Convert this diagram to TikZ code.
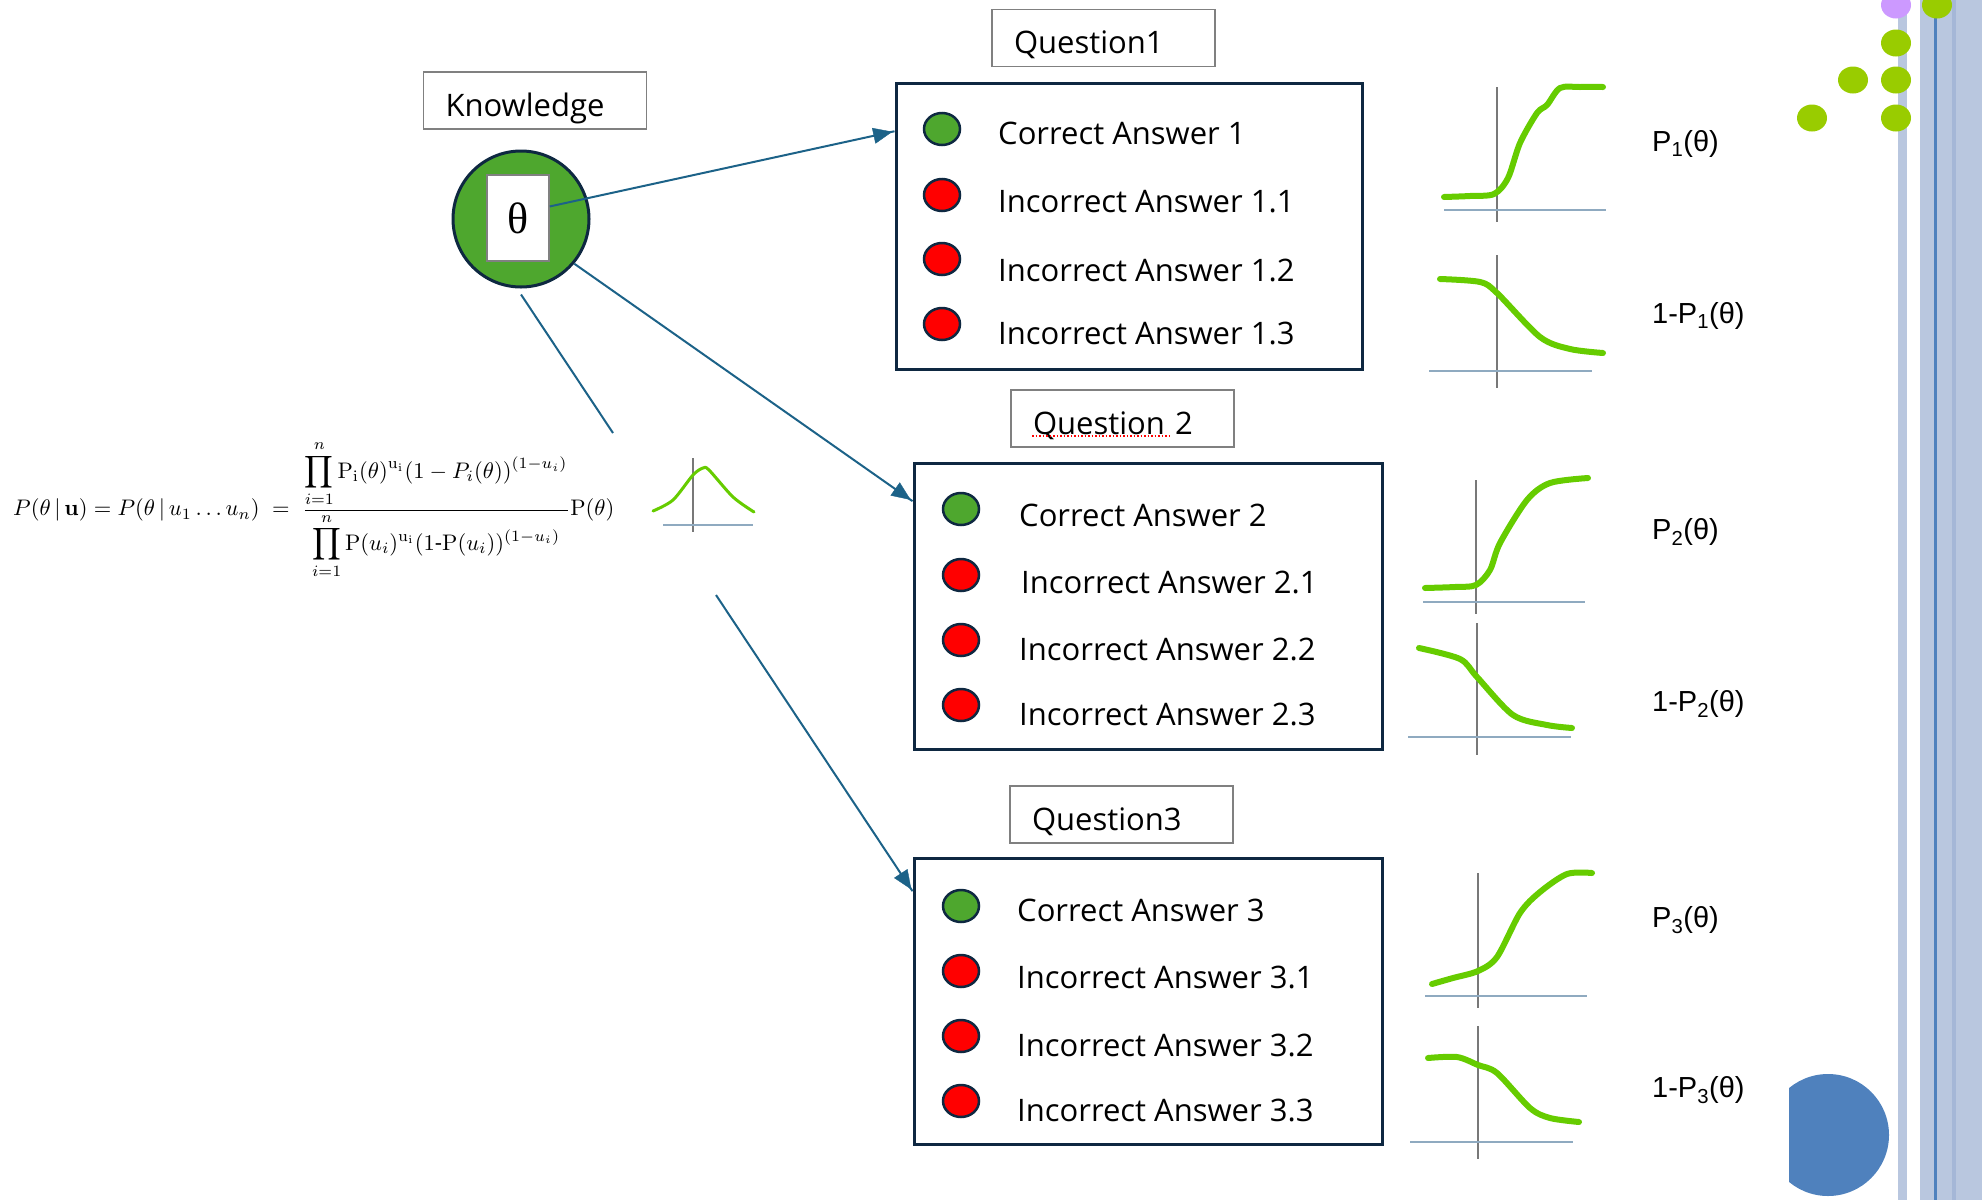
\documentclass[tikz,border=0pt]{standalone}
\usepackage[no-math]{fontspec}
\usepackage{amsmath}
\usepackage{graphicx}
\setmainfont{Open Sans}
\newfontfamily\plotfont{Liberation Sans}
\newfontfamily\greekfont{Liberation Serif}
\usepackage{tikz}
\usepackage{xcolor}
\definecolor{navy}{RGB}{14,40,65}
\definecolor{link}{RGB}{28,98,136}
\definecolor{boxgray}{RGB}{128,128,128}
\definecolor{okgreen}{RGB}{78,167,46}
\definecolor{badred}{RGB}{255,0,0}
\definecolor{curvegreen}{RGB}{102,204,0}
\definecolor{axisgray}{RGB}{120,120,120}
\definecolor{axisblue}{RGB}{143,170,192}
\definecolor{bar}{RGB}{185,199,223}
\definecolor{bardark}{RGB}{165,183,215}
\definecolor{barline}{RGB}{79,129,189}
\definecolor{lime}{RGB}{153,204,0}
\definecolor{lilac}{RGB}{204,153,255}
\usetikzlibrary{positioning, calc, shapes.geometric, arrows.meta, decorations.markings}
\tikzstyle{Arrow} = [
line width=2pt, draw=link,
decoration={
markings,
mark=at position 0.9999 with {
\arrow[link]{Triangle[length=22pt,width=18pt]}}},
preaction = {decorate}]
\tikzstyle{QBox} = [draw=navy, line width=3pt, minimum height=286pt, inner sep=0pt]
\tikzstyle{QLabel} = [draw=boxgray, line width=1.5pt, inner xsep=22pt, text width=179pt,
align=left, minimum height=57pt, text height=31pt, text depth=0pt,
font=\fontsize{31}{37}\selectfont]
\tikzstyle{Right} = [ellipse, draw=navy, line width=2.5pt, fill=okgreen,
minimum width=36pt, minimum height=32pt, inner sep=0pt]
\tikzstyle{Wrong} = [Right, fill=badred]
\tikzstyle{Ans} = [anchor=west, inner sep=0pt, font=\fontsize{31}{37}\selectfont]
\tikzstyle{PLab} = [anchor=west, inner sep=0pt, font=\plotfont\fontsize{29}{34}\selectfont]
\tikzstyle{Curve} = [line width=6pt, draw=curvegreen, line cap=round, line join=round]
\tikzstyle{VAxis} = [line width=1.5pt, draw=axisgray]
\tikzstyle{HAxis} = [line width=1.5pt, draw=axisblue]

\begin{document}
\begin{tikzpicture}[x=1pt, y=-1pt]
    \useasboundingbox (0,0) rectangle (1982,1200);

    % side strip
    \fill[bar] (1898,0) rectangle (1907,1200);
    \fill[bar] (1920,0) rectangle (1982,1200);
    \fill[bardark] (1952,0) rectangle (1956,1200);
    \draw[barline, line width=2.5pt] (1935.5,0) -- (1935.5,1200);
    \fill[lilac] (1896,5) ellipse [x radius=15pt, y radius=13.5pt];
    \fill[lime] (1937,5) ellipse [x radius=15pt, y radius=13.5pt];
    \fill[lime] (1896,43) ellipse [x radius=15pt, y radius=13.5pt];
    \fill[lime] (1853,80) ellipse [x radius=15pt, y radius=13.5pt];
    \fill[lime] (1896,80) ellipse [x radius=15pt, y radius=13.5pt];
    \fill[lime] (1812,118) ellipse [x radius=15pt, y radius=13.5pt];
    \fill[lime] (1896,118) ellipse [x radius=15pt, y radius=13.5pt];
    \begin{scope}
        \clip (1789,1000) rectangle (1982,1200);
        \fill[barline] (1828,1135) circle [radius=61pt];
    \end{scope}

    % knowledge
    \node[QLabel] (kn) at (535,100.5) {Knowledge};
    \node[circle, draw=navy, fill=okgreen, line width=3pt, minimum size=136pt, inner sep=0pt] (kc) at (521,219) {};
    \node[draw=boxgray, fill=white, line width=1.5pt, minimum width=62pt, minimum height=86pt,
        inner sep=0pt, font=\greekfont\fontsize{44}{44}\selectfont] (th) at (518,218) {θ};

    % posterior
    \node[anchor=west, inner sep=0pt] (eq) at (13,510) {\resizebox{601pt}{!}{$\displaystyle
        P(\theta\,|\,\mathbf{u}) = P(\theta\,|\,u_1\ldots u_n) \;=\;
        \frac{\displaystyle\prod_{i=1}^{n}\mathrm{P}_{\mathrm{i}}(\theta)^{\mathrm{u_i}}(1-P_i(\theta))^{(1-u_i)}}
             {\displaystyle\prod_{i=1}^{n}\mathrm{P}(u_i)^{\mathrm{u_i}}(1\mbox{-}\mathrm{P}(u_i))^{(1-u_i)}}\mathrm{P}(\theta)$}};
    \draw[VAxis, line width=1.2pt] (693,458) -- (693,532);
    \draw[HAxis, line width=1.2pt] (663,525) -- (753,525);
    \draw[Curve, line width=3pt] plot[smooth] coordinates {(653,511) (673,500) (693,475) (703,468) (709,470) (733,497) (754,512)};

    % question 1
    \node[QLabel] (q1l) at (1103.5,38) {Question1};
    \node[QBox, minimum width=466pt] (q1) at (1129,226) {};
    \node[Right] (a10) at (942,129) {};
    \node[Wrong] (a11) at (942,195) {};
    \node[Wrong] (a12) at (942,259) {};
    \node[Wrong] (a13) at (942,324) {};
    \node[Ans] (t10) at (998,133) {Correct Answer 1};
    \node[Ans] (t11) at (998,202) {Incorrect Answer 1.1};
    \node[Ans] (t12) at (998,270) {Incorrect Answer 1.2};
    \node[Ans] (t13) at (998,333) {Incorrect Answer 1.3};

    % question 2
    \node[QLabel] (q2l) at (1122.5,418.5) {Question 2};
    \draw[badred, dotted, line width=1.5pt] (1032,436) -- (1171,436);
    \node[QBox, minimum width=468pt] (q2) at (1148,606) {};
    \node[Right] (a20) at (961,509) {};
    \node[Wrong] (a21) at (961,575) {};
    \node[Wrong] (a22) at (961,640) {};
    \node[Wrong] (a23) at (961,705) {};
    \node[Ans] (t20) at (1019,515) {Correct Answer 2};
    \node[Ans] (t21) at (1021,582) {Incorrect Answer 2.1};
    \node[Ans] (t22) at (1019,649) {Incorrect Answer 2.2};
    \node[Ans] (t23) at (1019,714) {Incorrect Answer 2.3};

    % question 3
    \node[QLabel] (q3l) at (1121.5,814.5) {Question3};
    \node[QBox, minimum width=468pt] (q3) at (1148,1001) {};
    \node[Right] (a30) at (961,906) {};
    \node[Wrong] (a31) at (961,971) {};
    \node[Wrong] (a32) at (961,1036) {};
    \node[Wrong] (a33) at (961,1101) {};
    \node[Ans] (t30) at (1017,910) {Correct Answer 3};
    \node[Ans] (t31) at (1017,977) {Incorrect Answer 3.1};
    \node[Ans] (t32) at (1017,1045) {Incorrect Answer 3.2};
    \node[Ans] (t33) at (1017,1110) {Incorrect Answer 3.3};

    % links
    \coordinate (f1) at (613,433);
    \coordinate (f2) at (716,595);
    \draw[Arrow] (th.20) -- (q1.158);
    \draw[Arrow] (kc.-40) -- (q2.156);
    \draw[line width=2pt, draw=link] ([yshift=-6pt]kc.south) -- (f1);
    \draw[Arrow] (f2) -- (q3.155);

    % item curves 1
    \draw[VAxis] (1497,87) -- (1497,222);
    \draw[HAxis] (1444,210) -- (1606,210);
    \draw[Curve] plot[smooth] coordinates {(1444,197) (1470,196) (1494,194) (1508,178) (1520,143) (1537,113) (1547,105) (1560,88) (1580,87) (1603,87)};
    \draw[VAxis] (1497,255) -- (1497,388);
    \draw[HAxis] (1429,371) -- (1592,371);
    \draw[Curve] plot[smooth] coordinates {(1440,279) (1480,282) (1497,293) (1540,337) (1570,349) (1603,353)};
    \node[PLab] (p1) at (1652,144) {P\textsubscript{1}(θ)};
    \node[PLab] (n1) at (1652,316) {1-P\textsubscript{1}(θ)};

    % item curves 2
    \draw[VAxis] (1476,480) -- (1476,614);
    \draw[HAxis] (1423,602) -- (1585,602);
    \draw[Curve] plot[smooth] coordinates {(1425,588) (1455,587) (1476,585) (1490,570) (1500,543) (1527,500) (1550,483) (1588,478)};
    \draw[VAxis] (1477,623) -- (1477,755);
    \draw[HAxis] (1408,737) -- (1571,737);
    \draw[Curve] plot[smooth] coordinates {(1419,648) (1460,659) (1477,677) (1513,715) (1547,725) (1572,728)};
    \node[PLab] (p2) at (1652,532) {P\textsubscript{2}(θ)};
    \node[PLab] (n2) at (1652,704) {1-P\textsubscript{2}(θ)};

    % item curves 3
    \draw[VAxis] (1478,873) -- (1478,1008);
    \draw[HAxis] (1425,996) -- (1587,996);
    \draw[Curve] plot[smooth] coordinates {(1432,984) (1453,978) (1478,971) (1497,957) (1520,913) (1540,892) (1567,874) (1592,873)};
    \draw[VAxis] (1478,1026) -- (1478,1159);
    \draw[HAxis] (1410,1142) -- (1573,1142);
    \draw[Curve] plot[smooth] coordinates {(1428,1058) (1457,1057) (1478,1065) (1497,1073) (1530,1108) (1550,1118) (1579,1122)};
    \node[PLab] (p3) at (1652,920) {P\textsubscript{3}(θ)};
    \node[PLab] (n3) at (1652,1090) {1-P\textsubscript{3}(θ)};
\end{tikzpicture}
\end{document}
